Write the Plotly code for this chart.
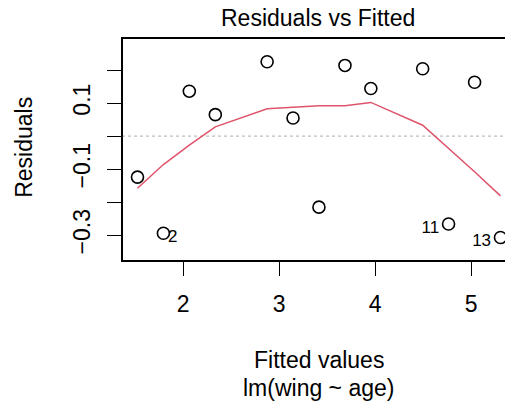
import plotly.graph_objects as go

# Data (lm(wing ~ age) residuals vs fitted)
fitted = [1.524, 1.794, 2.064, 2.335, 2.875, 3.145, 3.415, 3.686, 3.956, 4.496, 4.766, 5.037, 5.307]
residuals = [-0.124, -0.294, 0.136, 0.065, 0.225, 0.055, -0.215, 0.214, 0.144, 0.204, -0.266, 0.163, -0.307]
smooth_y = [-0.158, -0.086, -0.027, 0.028, 0.083, 0.088, 0.092, 0.092, 0.102, 0.033, -0.037, -0.108, -0.181]
id_index = [1, 10, 12]          # 0-based indices of labelled points
id_labels = ["2", "11", "13"]
id_pos = ["middle right", "middle left", "middle left"]
label_drop = 0.013              # labels sit slightly below their points

x_ticks = [2, 3, 4, 5]
y_ticks = [-0.3, -0.2, -0.1, 0.0, 0.1, 0.2]
y_ticktext = ["\u22120.3", "", "\u22120.1", "", "0.1", ""]

FONT = "Liberation Sans, Arial, Helvetica, sans-serif"
FS = 23

fig = go.Figure()
fig.add_trace(go.Scatter(x=[1.3, 5.6], y=[0, 0], mode="lines",
                         line=dict(color="#BEBEBE", width=1.3, dash="dot"),
                         hoverinfo="skip", showlegend=False))
fig.add_trace(go.Scatter(x=fitted, y=smooth_y, mode="lines",
                         line=dict(color="#DF536B", width=1.5), showlegend=False))
fig.add_trace(go.Scatter(x=fitted, y=residuals, mode="markers",
                         marker=dict(symbol="circle-open", size=12, color="black",
                                     line=dict(width=1.6, color="black")),
                         showlegend=False))
fig.add_trace(go.Scatter(x=[fitted[i] for i in id_index],
                         y=[residuals[i] - label_drop for i in id_index],
                         mode="text", text=[" " + t + " " if p.endswith("right") else t + "  " for t, p in zip(id_labels, id_pos)],
                         textposition=id_pos,
                         textfont=dict(family=FONT, size=17, color="black"),
                         showlegend=False, hoverinfo="skip"))

fig.update_layout(
    width=505, height=405,
    margin=dict(l=123, r=0, t=39, b=145),
    plot_bgcolor="white", paper_bgcolor="white",
    font=dict(family=FONT, size=FS, color="black"),
    xaxis=dict(range=[1.373, 5.354], tickvals=x_ticks, ticks="outside", ticklen=14,
               tickwidth=1.3, tickcolor="black", showgrid=False, zeroline=False,
               showline=True, linecolor="black", linewidth=1.5, mirror=True,
               tickfont=dict(size=FS), ticklabelstandoff=9),
    yaxis=dict(range=[-0.375, 0.294], tickvals=y_ticks, ticktext=y_ticktext,
               ticks="outside", ticklen=14, tickwidth=1.3, tickcolor="black",
               tickangle=-90, showgrid=False, zeroline=False,
               showline=True, linecolor="black", linewidth=1.5, mirror=False,
               tickfont=dict(size=FS), ticklabelstandoff=8),
    annotations=[
        dict(text="Residuals vs Fitted", xref="paper", yref="paper", x=0.510, y=1.095,
             xanchor="center", yanchor="middle", showarrow=False, font=dict(size=FS)),
        dict(text="Fitted values", xref="paper", yref="paper", x=0.512, y=-0.452,
             xanchor="center", yanchor="middle", showarrow=False, font=dict(size=FS)),
        dict(text="lm(wing ~ age)", xref="paper", yref="paper", x=0.512, y=-0.579,
             xanchor="center", yanchor="middle", showarrow=False, font=dict(size=FS)),
        dict(text="Residuals", xref="paper", yref="paper", x=-0.259, y=0.508,
             xanchor="center", yanchor="middle", showarrow=False, textangle=-90,
             font=dict(size=FS)),
    ],
)

fig.write_html("out.html", config={"displayModeBar": False},
               post_script="document.body.style.margin='0';")
